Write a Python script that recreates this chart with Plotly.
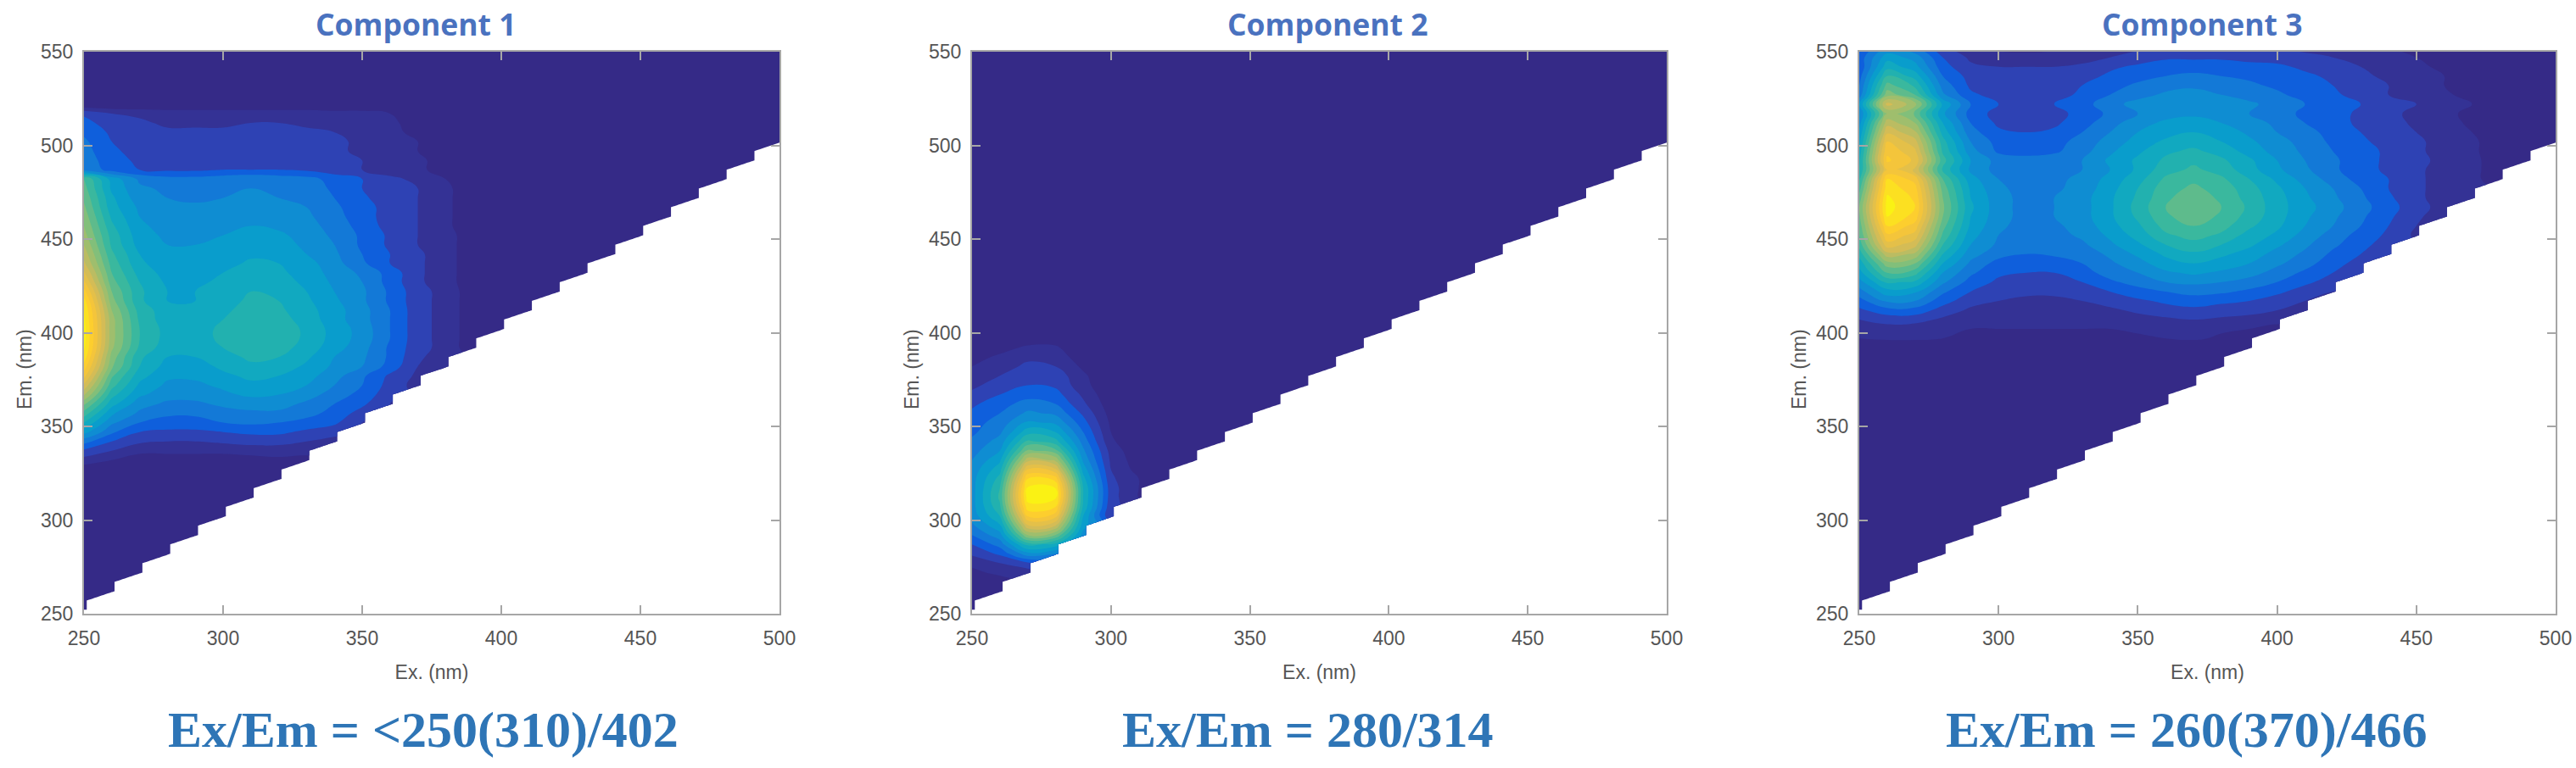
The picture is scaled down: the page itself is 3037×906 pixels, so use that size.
import plotly.graph_objects as go

ex_nm = list(range(250, 501, 10))
em_nm = list(range(252, 553, 5))

# intensity (percent of max); each row starts at Ex = 250
comp1_first_em = 327
comp1_rows = [
[2,2,1,1,1,1,2,2],
[8,5,3,3,3,3,3,4,4],
[14,10,6,6,6,6,7,7,6],
[22,15,11,10,10,11,12,12,10,8],
[32,21,15,14,14,15,16,16,14,12],
[40,26,20,18,18,20,21,20,18,16,10],
[48,31,24,21,21,23,24,24,22,18,13],
[56,37,27,24,24,26,27,27,24,20,16,10],
[66,42,31,27,27,29,31,30,27,23,18,12],
[74,47,34,29,29,31,34,33,30,25,20,13,8],
[82,51,37,31,31,34,36,35,32,27,21,14,9],
[88,56,40,33,33,36,39,38,34,29,25,18,10,6],
[93,58,41,35,35,38,41,40,36,30,26,19,11,7],
[96,61,44,37,37,40,43,42,38,32,27,19,12,8,2],
[97,62,45,38,38,41,44,43,39,33,28,20,12,8,2],
[97,62,45,38,38,41,44,43,39,33,28,20,12,8,2],
[96,62,44,37,37,40,43,42,38,32,27,20,12,8,2],
[95,60,43,37,37,39,42,41,37,32,27,20,12,8,2],
[92,57,41,35,35,38,41,40,36,31,26,19,12,8,2],
[87,55,41,35,35,37,40,39,35,30,26,19,12,8,2],
[81,52,40,34,34,36,38,37,34,29,25,18,11,7,2],
[76,50,38,33,33,35,37,36,33,28,24,18,11,7,2],
[71,48,36,32,32,33,36,35,32,27,21,15,11,7,2],
[68,46,35,31,31,32,34,33,30,26,20,15,11,7,2],
[65,44,33,30,30,31,33,32,29,25,19,14,10,7,2],
[62,43,32,29,29,30,31,31,28,24,19,14,10,7,2],
[60,41,31,28,28,28,30,29,27,23,18,13,10,6,2],
[58,39,30,27,27,27,29,28,26,22,17,13,10,6,2],
[56,37,29,26,26,26,27,27,25,21,17,13,10,6,2],
[54,36,27,25,24,25,26,25,24,20,16,12,10,6,2],
[52,34,26,24,23,24,25,24,23,19,15,12,10,6,2],
[50,33,24,22,22,23,24,23,22,18,15,11,9,5,1],
[24,18,15,14,14,15,15,15,14,12,10,8,6,3],
[23,17,14,13,13,14,14,14,13,12,10,8,6,3],
[22,16,13,13,13,13,14,14,13,11,9,7,5,2],
[21,15,13,12,12,12,13,13,12,11,9,7,5,2],
[19,14,12,11,11,11,12,12,11,10,8,6,4,1],
[17,12,11,9,9,9,10,10,9,9,7,6,3,1],
[14,10,9,8,8,8,8,8,8,7,7,5,2],
]

comp2_first_em = 262
comp2_rows = [
[1,1],
[2,3],
[4,6,7],
[6,10,14],
[11,16,28,25],
[15,22,42,38],
[20,28,60,55,28],
[24,34,74,70,32],
[27,40,85,82,35,10],
[28,44,93,90,39,11],
[28,46,97,96,40,12,5],
[28,45,96,95,40,12,5],
[28,42,90,88,37,11,5],
[27,38,80,76,33,10,3],
[25,34,68,64,29,9,2],
[23,30,56,52,26,8,1],
[21,27,46,42,23,6],
[19,24,38,35,20,5],
[18,22,31,29,17,4],
[16,20,26,24,14,3],
[14,18,22,20,11,2],
[11,15,18,17,9,1],
[9,12,15,14,7],
[7,10,14,13,6],
[5,8,11,10,4],
[3,6,9,8,2],
[1,3,6,6],
[0,1,2,2],
]

comp3_first_em = 397
comp3_rows = [
[5,6,6,5,4,3,2,2,2,3,4,5,6,4,2],
[7,8,7,6,5,5,5,5,5,5,6,7,7,6,5,3],
[10,12,12,9,7,6,6,6,6,7,8,9,10,9,8,7],
[14,18,18,13,9,8,8,7,8,9,11,13,14,13,12,10,7],
[18,26,25,17,12,10,9,9,10,12,14,16,17,16,15,13,10],
[23,33,31,21,15,12,11,11,13,15,18,20,22,21,19,16,13,10],
[28,41,39,26,18,14,13,13,15,19,22,25,26,25,23,20,16,13],
[33,50,47,30,21,16,15,15,18,22,25,29,31,29,27,23,19,15,11],
[37,58,55,35,24,18,16,17,20,24,28,33,35,33,30,26,22,17,13],
[42,68,64,40,27,22,20,21,22,26,31,36,39,36,33,28,24,19,15,11],
[47,78,72,45,30,24,21,22,24,29,34,40,43,40,36,31,26,21,17,12],
[50,84,78,49,32,25,22,23,26,31,37,44,47,44,38,34,28,23,18,14,9],
[52,90,83,52,34,26,23,24,27,33,39,47,50,47,41,36,30,25,20,15,10],
[54,95,88,55,35,27,23,25,28,34,41,49,53,49,43,37,31,26,21,16,11,7],
[55,97,90,56,36,27,23,25,28,34,42,50,54,50,44,37,32,27,22,17,12,8],
[52,96,89,55,35,27,23,25,28,34,41,49,53,49,43,37,31,26,21,16,11,8,5],
[48,93,87,53,34,26,23,24,27,33,40,48,51,48,42,36,30,25,20,15,11,8,6],
[44,90,83,50,32,25,23,24,26,32,38,46,49,46,40,34,28,23,18,15,11,8,6,3],
[40,80,74,44,29,23,22,23,25,30,36,43,46,43,37,31,26,21,17,14,11,8,6,3],
[39,86,79,47,30,23,22,23,25,31,36,41,44,41,36,30,25,21,17,14,11,9,6,3,1],
[37,84,76,44,27,19,18,19,23,29,34,39,41,38,33,28,24,20,17,14,11,8,6,2,1],
[34,80,72,42,25,18,17,18,22,27,32,36,38,35,31,27,23,19,16,13,11,8,6,2],
[31,74,66,38,22,16,15,16,20,25,30,33,35,33,29,25,22,18,15,13,10,7,5,2],
[28,68,60,35,20,14,13,14,18,23,28,31,32,30,27,24,20,17,14,12,9,7,4,1],
[25,60,54,31,18,13,12,13,17,21,25,28,29,27,25,22,19,17,14,11,9,6,4,1],
[30,72,62,34,20,15,14,15,18,23,27,29,30,28,26,23,20,18,15,12,10,7,5,1],
[22,58,50,26,16,13,12,13,16,20,23,26,27,25,23,21,18,16,13,10,8,6,3],
[20,52,44,23,14,12,12,12,15,18,21,23,24,23,21,19,17,15,12,10,7,5,3],
[18,45,38,20,13,11,11,11,13,16,18,20,21,20,19,18,16,14,11,9,7,5,2],
[16,38,32,17,11,10,10,10,11,14,16,18,18,18,17,16,14,12,10,8,6,4,2],
[17,33,28,15,9,7,7,7,8,10,12,14,14,14,13,13,11,10,9,7,5,3,2],
[14,26,21,11,6,4,3,4,5,7,9,10,10,10,10,10,9,8,7,5,3,2,1],
]

titles = ["Component 1", "Component 2", "Component 3"]
captions = ["Ex/Em = <250(310)/402", "Ex/Em = 280/314", "Ex/Em = 260(370)/466"]
tick_vals_x = [250, 300, 350, 400, 450, 500]
tick_vals_y = [250, 300, 350, 400, 450, 500, 550]

parula = [[0.0, "#352a87"], [0.075, "#3140b0"], [0.125, "#0f5cdd"], [0.2, "#1481d6"], [0.31, "#06a4ca"],
          [0.43, "#2eb7a4"], [0.56, "#87bf77"], [0.7, "#d1bb59"], [0.85, "#fec832"], [1.0, "#f9fb0e"]]

W, H = 3037, 906
plot_left = [99, 1146, 2192]
plot_right = [919, 1965, 3013]
plot_top, plot_bottom = 61, 724
ytitle_x = [29, 1075, 2121]
title_x = [490, 1565, 2596]
caption_x = [499, 1542, 2578]


def grid(first_em, rows):
    out = []
    for em in em_nm:
        idx = (em - first_em) // 5
        stored = rows[idx] if 0 <= idx < len(rows) else []
        line = []
        for k, ex in enumerate(ex_nm):
            if ex > em - 2:
                line.append(None)
            else:
                line.append(stored[k] if k < len(stored) else 0)
        out.append(line)
    return out


grids = [grid(comp1_first_em, comp1_rows), grid(comp2_first_em, comp2_rows), grid(comp3_first_em, comp3_rows)]

fig = go.Figure()
label_font = dict(family="Liberation Sans", size=23, color="#555555")
axis_common = dict(showgrid=False, zeroline=False, showline=True, linecolor="#a6a6a6", linewidth=2,
                   mirror="ticks", ticks="inside", ticklen=10, tickwidth=2, tickcolor="#a6a6a6",
                   tickfont=label_font, automargin=False)
annotations = []
for i in range(3):
    n = "" if i == 0 else str(i + 1)
    fig.add_trace(go.Contour(
        x=ex_nm, y=em_nm, z=grids[i], xaxis="x" + n, yaxis="y" + n,
        colorscale=parula, zmin=0, zmax=100, showscale=False, connectgaps=False,
        autocontour=False, contours=dict(start=5, end=100, size=5, coloring="fill"),
        line=dict(width=0, smoothing=1.3),
    ))
    fig.update_layout({
        "xaxis" + n: dict(axis_common, domain=[plot_left[i] / W, plot_right[i] / W], range=[250, 500],
                          tickvals=tick_vals_x, anchor="y" + n, ticklabelstandoff=7,
                          title=dict(text="Ex. (nm)", standoff=20, font=label_font)),
        "yaxis" + n: dict(axis_common, domain=[1 - plot_bottom / H, 1 - plot_top / H], range=[250, 550],
                          tickvals=tick_vals_y, anchor="x" + n, ticklabelstandoff=6),
    })
    annotations.append(dict(text="Em. (nm)", x=ytitle_x[i] / W, y=1 - 436 / H, xref="paper", yref="paper",
                            xanchor="center", yanchor="middle", textangle=-90, showarrow=False, font=label_font))
    annotations.append(dict(text="<b>%s</b>" % titles[i], x=title_x[i] / W, y=1 - 28 / H, xref="paper", yref="paper",
                            xanchor="center", yanchor="middle", showarrow=False,
                            font=dict(family="Open Sans", size=35.5, color="#4a72bf")))
    annotations.append(dict(text="<b>%s</b>" % captions[i], x=caption_x[i] / W, y=1 - 861 / H, xref="paper", yref="paper",
                            xanchor="center", yanchor="middle", showarrow=False,
                            font=dict(family="Liberation Serif", size=60, color="#2e75b6")))

fig.update_layout(width=W, height=H, autosize=False, margin=dict(l=0, r=0, t=0, b=0, autoexpand=False),
                  paper_bgcolor="white", plot_bgcolor="white", showlegend=False, annotations=annotations,
                  hovermode=False)
fig.write_html("out.html", config={"displayModeBar": False},
               post_script="document.body.style.margin='0';document.body.style.overflow='hidden';")
